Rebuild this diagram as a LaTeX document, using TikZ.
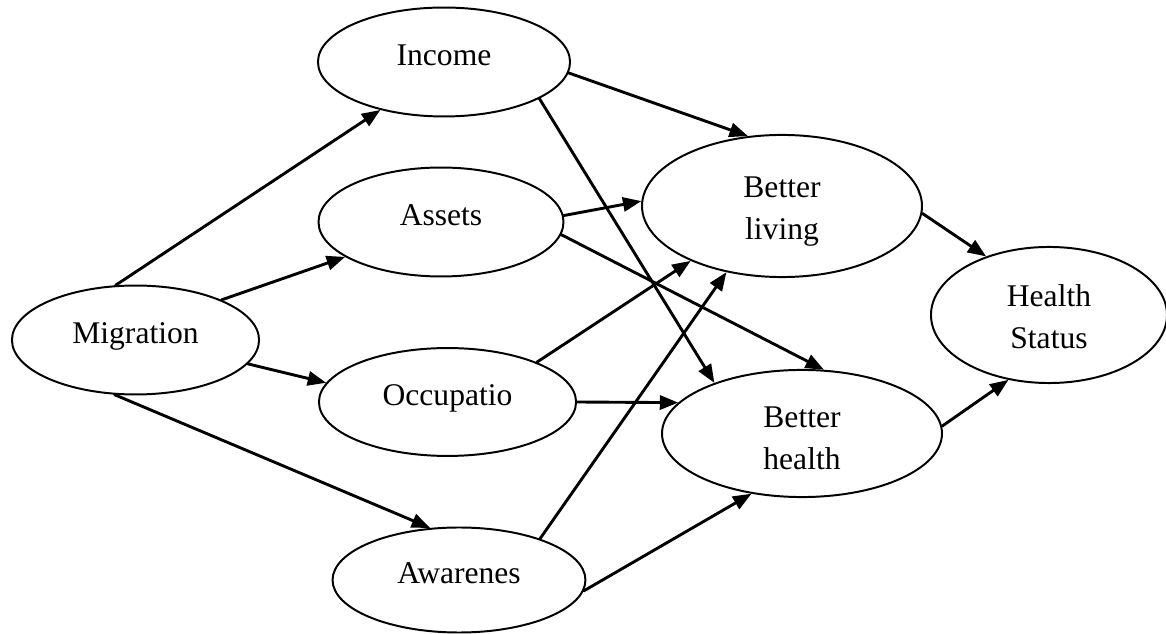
\documentclass[tikz,border=0pt]{standalone}
\usepackage{fontspec}
\setmainfont{Liberation Serif}
\usetikzlibrary{shapes.geometric,arrows.meta}

\tikzset{
  oval/.style={draw,ellipse,line width=0.75pt,inner sep=0pt,align=center,
    font=\fontsize{12}{15.8}\selectfont},
  one/.style={oval,text height=8.9pt,text depth=6.6pt},
  two/.style={oval,text height=25.6pt,text depth=0.3pt},
  size/.style 2 args={minimum width=#1,minimum height=#2},
  link/.style={->,line width=1.1pt}
}

\begin{document}
\begin{tikzpicture}[line cap=round,line join=round,>={Triangle[length=7pt,width=5.4pt]},x=0.38pt,y=-0.38pt]
\useasboundingbox (0,0) rectangle (1166,634);
\node[one,size={93.9pt}{41.4pt}] (mig) at (135.5,340) {Migration};
\node[one,size={95.8pt}{41.4pt}] (inc) at (444,62) {Income};
\node[one,size={93.1pt}{41.4pt}] (ass) at (441,222) {Assets};
\node[one,size={97.7pt}{41pt}] (occ) at (447.5,402) {Occupatio};
\node[one,size={96.1pt}{39.9pt}] (awa) at (459,580) {Awarenes};
\node[two,size={106.4pt}{54pt}] (bl) at (782,206) {Better\\living};
\node[two,size={106.4pt}{48.3pt},text height=27.3pt] (bh) at (802,433.5) {Better\\health};
\node[two,size={89.7pt}{51.7pt}] (hs) at (1049,315) {Health\\Status};
\draw[link] (mig.110.4) -- (inc.217.3);
\draw[link] (mig.25.3) -- (ass.200);
\draw[link] (mig.-12) -- (occ.171.1);
\draw[link] (mig.249.2) -- (awa.119.6);
\draw[link] (inc.-5.1) -- (bl.116.6);
\draw[link] (inc.-21.4) -- (bh.150.5);
\draw[link] (ass.3.8) -- (bl.178);
\draw[link] (ass.-6.1) -- (bh.71.7);
\draw[link] (occ.24.5) -- (bl.211.3);
\draw[link] (occ.0) -- (bh.166);
\draw[link] (awa.27.1) -- (bl.230.3);
\draw[link] (awa.-5.4) -- (bh.230.1);
\draw[link] (bl.-3.7) -- (hs.137.4);
\draw[link] (bh.3.5) -- (hs.238.5);
\end{tikzpicture}
\end{document}
